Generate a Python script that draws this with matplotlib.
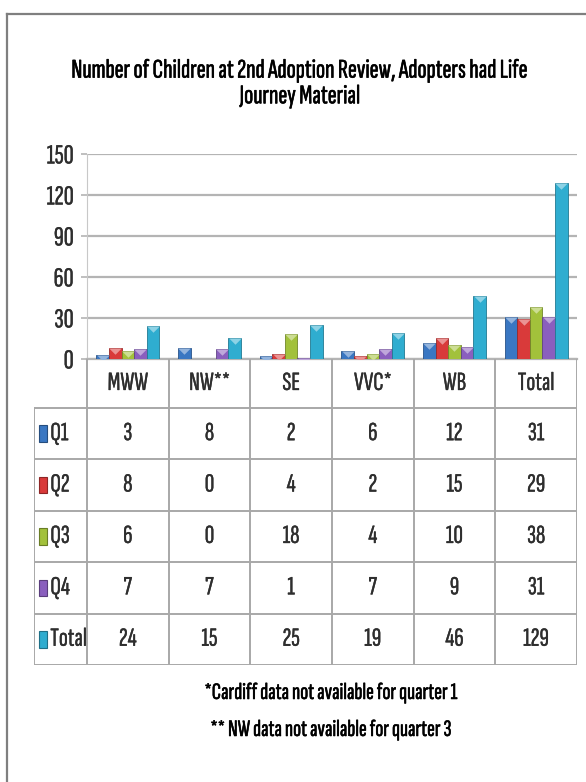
import numpy as np
import matplotlib
matplotlib.use('Agg')
import matplotlib.pyplot as plt
import matplotlib.patheffects as pe
from matplotlib import font_manager
from matplotlib.lines import Line2D
from matplotlib.patches import Rectangle
from matplotlib.colors import to_rgb

# data
regions = ['MWW', 'NW**', 'SE', 'VVC*', 'WB', 'Total']
series = ['Q1', 'Q2', 'Q3', 'Q4', 'Total']
q1 = [3, 8, 2, 6, 12, 31]
q2 = [8, 0, 4, 2, 15, 29]
q3 = [6, 0, 18, 4, 10, 38]
q4 = [7, 7, 1, 7, 9, 31]
total = [24, 15, 25, 19, 46, 129]
yticks = [0, 30, 60, 90, 120, 150]
colors = ['#3a77c2', '#d93a3a', '#a2c13b', '#8a5fbe', '#2fadd0']

title = 'Number of Children at 2nd Adoption Review, Adopters had Life\nJourney Material'
notes = ['*Cardiff data not available for quarter 1',
         '** NW data not available for quarter 3']

# narrow font, the original text is very condensed
names = {f.name for f in font_manager.fontManager.ttflist}
wanted = ['Sofia Sans Extra Condensed', 'Fira Sans Extra Condensed',
          'Roboto Condensed', 'Liberation Sans Narrow']
fams = [f for f in wanted if f in names] + ['DejaVu Sans']
plt.rcParams['font.family'] = fams

W, H = 586, 782
def fx(px):
    return px / W
def fy(py):
    return 1 - py / H

def mix(c, other, t):
    a = np.array(to_rgb(c))
    b = np.array(to_rgb(other))
    return tuple(a * (1 - t) + b * t)

def heavy(lw, c):
    return [pe.withStroke(linewidth=lw, foreground=c)]

txt = '#2e2e2e'

fig = plt.figure(figsize=(W / 100, H / 100), dpi=100)

# outer frame (top and left only, rest is cropped off)
fig.add_artist(Line2D([fx(7), 1], [fy(14), fy(14)], color='#7f7f7f', lw=1.6))
fig.add_artist(Line2D([fx(7), fx(7)], [fy(14), 0], color='#7f7f7f', lw=1.6))

'''Bars'''
ax = fig.add_axes([fx(87), fy(359), fx(577) - fx(87), fy(154) - fy(359)])
x = np.arange(len(regions))
w = 0.154
tri = [(-1, 0), (1, 0), (0, -1)]
data = [q1, q2, q3, q4, total]
for j, (vals, c) in enumerate(zip(data, colors)):
    bars = ax.bar(x + (j - 2) * w, vals, width=w, color=c,
                  edgecolor=mix(c, 'black', 0.3), linewidth=0.6, zorder=3)
    for b, v in zip(bars, vals):
        if v <= 0:
            continue
        m, = ax.plot([b.get_x() + b.get_width() / 2], [v], marker=tri, ms=9,
                     color=mix(c, 'white', 0.45), mec='none', zorder=4)
        m.set_clip_path(b)

ax.set_xlim(-0.5, len(regions) - 0.5)
ax.set_ylim(yticks[0], yticks[-1])
ax.set_yticks(yticks)
ax.set_xticks([])
ax.yaxis.grid(True, color='#b4b4b4', lw=1.6)
ax.set_axisbelow(True)
for s in ['top', 'right']:
    ax.spines[s].set_visible(False)
ax.spines['left'].set_color('#c8c8c8')
ax.spines['bottom'].set_color('#b4b4b4')
ax.spines['bottom'].set_linewidth(1.6)
ax.tick_params(axis='y', length=4.5, color='#b4b4b4', width=1.2, pad=5,
               labelsize=20, labelcolor=txt)
for lab in ax.get_yticklabels():
    lab.set_path_effects(heavy(0.25, txt))

'''Data table'''
colw = (577 - 87) / len(regions)
xleft = -0.5 - (87 - 34) / colw
head = 49 / 51.4
nrows = len(series)
tab = fig.add_axes([fx(34), fy(665), fx(577) - fx(34), fy(359) - fy(665)])
tab.set_xlim(xleft, len(regions) - 0.5)
tab.set_ylim(0, nrows + head)
tab.axis('off')

lc = '#a8a8a8'
for k in range(nrows + 1):
    tab.plot([xleft, len(regions) - 0.5], [k, k], color=lc, lw=1.4)
tab.plot([xleft, xleft], [0, nrows], color=lc, lw=1.4)
for i in range(len(regions) + 1):
    tab.plot([i - 0.5, i - 0.5], [0, nrows + head], color=lc, lw=1.4)

for i, r in enumerate(regions):
    tab.text(i, nrows + head / 2, r, ha='center', va='center',
             fontsize=19, color=txt, path_effects=heavy(0.25, txt))

for k, (s, vals, c) in enumerate(zip(series, data, colors)):
    yc = nrows - k - 0.5
    for i, v in enumerate(vals):
        tab.text(i, yc, str(v), ha='center', va='center',
                 fontsize=19, color=txt, path_effects=heavy(0.25, txt))
    tab.add_patch(Rectangle((xleft + 0.06, yc - 0.16), 0.095, 0.32,
                            facecolor=c, edgecolor=mix(c, 'black', 0.35), lw=0.8))
    tab.text(xleft + 0.2, yc, s, ha='left', va='center',
             fontsize=19, color=txt, path_effects=heavy(0.25, txt))

'''Titles'''
fig.text(fx(300), fy(84), title, ha='center', va='center', fontsize=19.5,
         fontweight='bold', linespacing=1.15, color='black',
         path_effects=heavy(0.4, 'black'))
fig.text(fx(331), fy(693), notes[0], ha='center', va='center',
         fontsize=17, fontweight='bold', color='black',
         path_effects=heavy(0.4, 'black'))
fig.text(fx(331), fy(730), notes[1], ha='center', va='center',
         fontsize=17, fontweight='bold', color='black',
         path_effects=heavy(0.4, 'black'))

fig.savefig('out.png', dpi=100)
